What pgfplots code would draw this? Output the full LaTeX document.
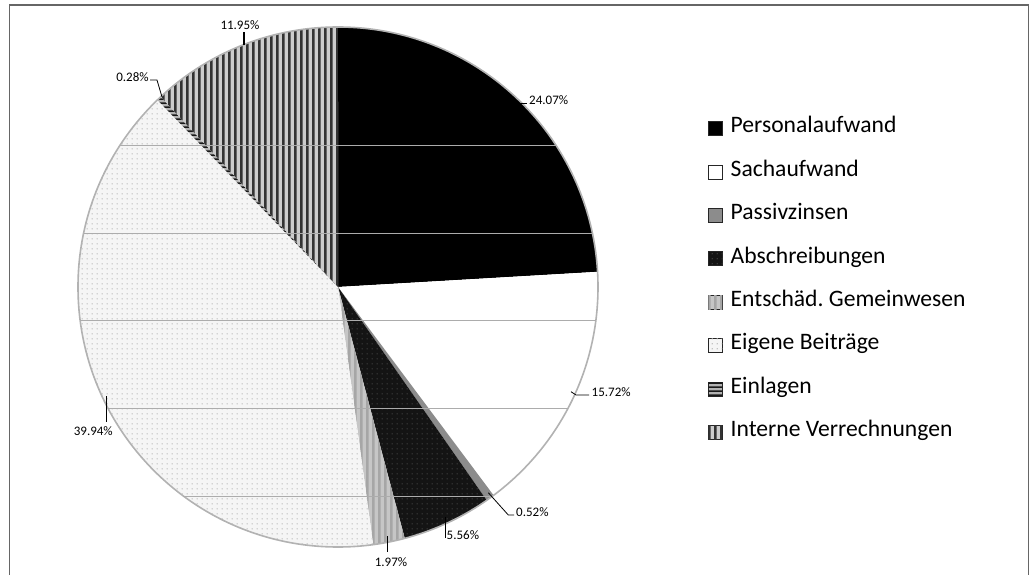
\documentclass[border=0pt]{standalone}
\usepackage{pgfplots}
\pgfplotsset{compat=1.18}
\usetikzlibrary{patterns,patterns.meta}
\usepackage{fontspec}
\setmainfont{Carlito}
\frenchspacing

\tikzdeclarepattern{name=vstripes, type=uncolored,
  bottom left={(0bp,0bp)}, top right={(6bp,6bp)}, tile size={(6bp,6bp)},
  code={\fill (0bp,-1bp) rectangle (3bp,7bp);}}
\tikzdeclarepattern{name=hstripes, type=uncolored,
  bottom left={(0bp,0bp)}, top right={(4bp,4bp)}, tile size={(4bp,4bp)},
  code={\fill (-1bp,0bp) rectangle (5bp,2bp);}}
\tikzdeclarepattern{name=sdots, type=uncolored,
  bottom left={(0bp,0bp)}, top right={(5bp,5bp)}, tile size={(5bp,5bp)},
  code={\fill (2.5bp,2.5bp) circle (0.8bp);}}

\newcommand{\labfont}{\fontsize{13bp}{15bp}\selectfont}

\begin{document}
\begin{tikzpicture}
\begin{axis}[
  width=1034bp, height=575bp, scale only axis,
  xmin=0, xmax=1034, ymin=0, ymax=575,
  hide axis, clip=false,
  legend style={at={(axis cs:708,459)}, anchor=north west, draw=none, fill=none,
    inner sep=0pt, outer sep=0pt, row sep=20.4bp, column sep=8bp,
    font=\fontsize{23.6bp}{28bp}\selectfont,
    nodes={inner sep=0pt, text height=17bp, text depth=6bp, anchor=base west}},
  legend cell align=left,
  legend image code/.code={\draw[#1,draw=black!85,line width=0.7bp] (0bp,-2.5bp) rectangle (14bp,11.5bp);},
]
% fixed picture area
\path (axis cs:0,0) rectangle (axis cs:1034,575);
% frame
\draw[black!60, line width=1.5bp] (axis cs:9.5,0) -- (axis cs:9.5,570) -- (axis cs:1028.5,570) -- (axis cs:1028.5,0);

% pie slices: domain = cumulative percentages
\addplot[fill=black, draw=none, domain=0:24.07, samples=60, variable=\p]
  ({338+260*sin(3.6*\p)}, {288+260*cos(3.6*\p)}) -- (axis cs:338,288) -- cycle;
\addlegendentry{Personalaufwand}
\addplot[fill=white, draw=none, domain=24.07:39.79, samples=40, variable=\p]
  ({338+260*sin(3.6*\p)}, {288+260*cos(3.6*\p)}) -- (axis cs:338,288) -- cycle;
\addlegendentry{Sachaufwand}
\addplot[fill=gray!90, draw=none, domain=39.79:40.31, samples=5, variable=\p]
  ({338+260*sin(3.6*\p)}, {288+260*cos(3.6*\p)}) -- (axis cs:338,288) -- cycle;
\addlegendentry{Passivzinsen}
\addplot[fill=black!92, draw=none, postaction={pattern=sdots, pattern color=black!72},
  domain=40.31:45.87, samples=20, variable=\p]
  ({338+260*sin(3.6*\p)}, {288+260*cos(3.6*\p)}) -- (axis cs:338,288) -- cycle;
\addlegendentry{Abschreibungen}
\addplot[fill=gray!45, draw=none, postaction={pattern=vstripes, pattern color=gray!70},
  domain=45.87:47.84, samples=8, variable=\p]
  ({338+260*sin(3.6*\p)}, {288+260*cos(3.6*\p)}) -- (axis cs:338,288) -- cycle;
\addlegendentry{Entschäd. Gemeinwesen}
\addplot[fill=gray!8, draw=none, postaction={pattern=sdots, pattern color=gray!60},
  domain=47.84:87.78, samples=90, variable=\p]
  ({338+260*sin(3.6*\p)}, {288+260*cos(3.6*\p)}) -- (axis cs:338,288) -- cycle;
\addlegendentry{Eigene Beiträge}
\addplot[fill=gray!60, draw=none, postaction={pattern=hstripes, pattern color=black!90},
  domain=87.78:88.06, samples=4, variable=\p]
  ({338+260*sin(3.6*\p)}, {288+260*cos(3.6*\p)}) -- (axis cs:338,288) -- cycle;
\addlegendentry{Einlagen}
\addplot[fill=gray!40, draw=none, postaction={pattern=vstripes, pattern color=black!80},
  domain=88.06:100, samples=30, variable=\p]
  ({338+260*sin(3.6*\p)}, {288+260*cos(3.6*\p)}) -- (axis cs:338,288) -- cycle;
\addlegendentry{Interne Verrechnungen}

% outer ring
\draw[gray!60, line width=1.6bp] (axis cs:338,288) circle[radius=260];

% faint horizontal scan lines
\draw[gray!65, line width=0.6bp] (axis cs:120,430) -- (axis cs:556,430);
\draw[gray!65, line width=0.6bp] (axis cs:84,342) -- (axis cs:592,342);
\draw[gray!65, line width=0.6bp] (axis cs:80,255) -- (axis cs:596,255);
\draw[gray!65, line width=0.6bp] (axis cs:108,167) -- (axis cs:568,167);
\draw[gray!65, line width=0.6bp] (axis cs:183,79) -- (axis cs:493,79);

% labels with leader lines
\draw[black, line width=1.2bp] (axis cs:244,530) -- (axis cs:244,543);
\node[font=\labfont, anchor=center] at (axis cs:240,550) {11.95\%};
\draw[black, line width=0.8bp] (axis cs:150,495) -- (axis cs:157,495) -- (axis cs:162,478);
\node[font=\labfont, anchor=center] at (axis cs:132.5,498) {0.28\%};
\draw[black, line width=0.8bp] (axis cs:520,472) -- (axis cs:527,472);
\node[font=\labfont, anchor=west, inner sep=1bp] at (axis cs:528,475) {24.07\%};
\draw[black, line width=0.8bp] (axis cs:571,183.3) -- (axis cs:576,180) -- (axis cs:589,180);
\node[font=\labfont, anchor=west, inner sep=1bp] at (axis cs:590.5,182.7) {15.72\%};
\draw[black, line width=0.8bp] (axis cs:488.3,82.3) -- (axis cs:508.3,60) -- (axis cs:514,60);
\node[font=\labfont, anchor=west, inner sep=1bp] at (axis cs:515,63.3) {0.52\%};
\draw[black, line width=0.8bp] (axis cs:445,58.3) -- (axis cs:445,36.7);
\node[font=\labfont, anchor=west, inner sep=1bp] at (axis cs:445.5,40) {5.56\%};
\draw[black, line width=0.8bp] (axis cs:387.3,39) -- (axis cs:387.3,23.3);
\node[font=\labfont, anchor=center] at (axis cs:391,13.3) {1.97\%};
\draw[black, line width=1.2bp] (axis cs:106.7,179) -- (axis cs:106.7,152.7);
\node[font=\labfont, anchor=center] at (axis cs:93.3,144) {39.94\%};
\end{axis}
\end{tikzpicture}
\end{document}
